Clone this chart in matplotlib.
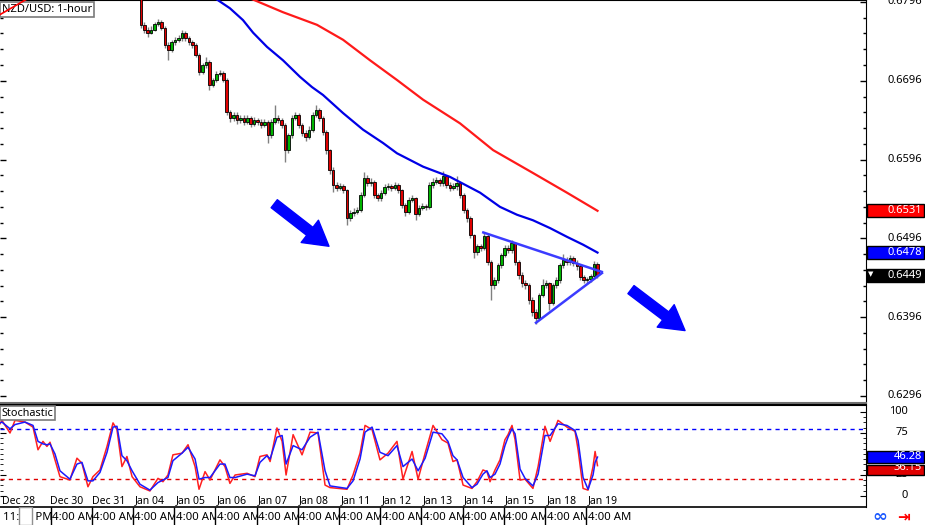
import matplotlib
matplotlib.use('Agg')
import matplotlib.pyplot as plt
import numpy as np
from matplotlib.patches import Rectangle
from matplotlib.ticker import FixedLocator, NullFormatter

plt.rcParams['font.family'] = ['Noto Sans', 'DejaVu Sans']

# ---------------- data ----------------
# x axis: hours, with day label "Dec 30" at hour 24
bar_hours_start = 67
bar_step = 2
first_open = 0.6812
closes = [0.6767, 0.6761, 0.6757, 0.6761, 0.6768, 0.6771, 0.6763, 0.6741, 0.6735, 0.6745,
          0.6748, 0.6750, 0.6757, 0.6750, 0.6745, 0.6741, 0.6729, 0.6707, 0.6716, 0.6720,
          0.6691, 0.6697, 0.6705, 0.6706, 0.6697, 0.6656, 0.6649, 0.6653, 0.6646, 0.6649,
          0.6644, 0.6649, 0.6641, 0.6646, 0.6644, 0.6640, 0.6644, 0.6627, 0.6644, 0.6649,
          0.6646, 0.6640, 0.6608, 0.6627, 0.6649, 0.6653, 0.6640, 0.6630, 0.6625, 0.6634,
          0.6653, 0.6659, 0.6649, 0.6631, 0.6608, 0.6583, 0.6564, 0.6560, 0.6562, 0.6557,
          0.6522, 0.6528, 0.6530, 0.6532, 0.6551, 0.6573, 0.6566, 0.6568, 0.6551, 0.6547,
          0.6554, 0.6561, 0.6562, 0.6560, 0.6564, 0.6557, 0.6538, 0.6530, 0.6545, 0.6547,
          0.6527, 0.6535, 0.6537, 0.6536, 0.6564, 0.6568, 0.6570, 0.6566, 0.6575, 0.6564,
          0.6560, 0.6562, 0.6566, 0.6551, 0.6532, 0.6522, 0.6500, 0.6479, 0.6486, 0.6484,
          0.6499, 0.6466, 0.6437, 0.6443, 0.6462, 0.6475, 0.6484, 0.6481, 0.6490, 0.6466,
          0.6450, 0.6439, 0.6437, 0.6418, 0.6403, 0.6395, 0.6424, 0.6437, 0.6439, 0.6414,
          0.6437, 0.6443, 0.6462, 0.6469, 0.6466, 0.6471, 0.6465, 0.6461, 0.6447, 0.6443,
          0.6444, 0.6448, 0.6464, 0.6449]
highs = [0.6815, 0.6770, 0.6764, 0.6765, 0.6771, 0.6775, 0.6773, 0.6766, 0.6745, 0.6748,
         0.6752, 0.6754, 0.6761, 0.6759, 0.6753, 0.6748, 0.6744, 0.6731, 0.6719, 0.6726,
         0.6722, 0.6700, 0.6708, 0.6710, 0.6708, 0.6699, 0.6659, 0.6657, 0.6656, 0.6653,
         0.6652, 0.6653, 0.6651, 0.6650, 0.6649, 0.6647, 0.6647, 0.6646, 0.6647, 0.6665,
         0.6652, 0.6649, 0.6642, 0.6630, 0.6652, 0.6657, 0.6655, 0.6643, 0.6633, 0.6638,
         0.6656, 0.6665, 0.6661, 0.6651, 0.6633, 0.6610, 0.6586, 0.6568, 0.6566, 0.6565,
         0.6559, 0.6532, 0.6534, 0.6536, 0.6555, 0.6580, 0.6576, 0.6572, 0.6570, 0.6554,
         0.6557, 0.6565, 0.6566, 0.6565, 0.6568, 0.6566, 0.6559, 0.6541, 0.6548, 0.6551,
         0.6549, 0.6538, 0.6541, 0.6540, 0.6567, 0.6572, 0.6574, 0.6573, 0.6582, 0.6577,
         0.6567, 0.6566, 0.6575, 0.6568, 0.6553, 0.6535, 0.6524, 0.6502, 0.6489, 0.6489,
         0.6504, 0.6501, 0.6468, 0.6447, 0.6465, 0.6478, 0.6488, 0.6487, 0.6494, 0.6492,
         0.6469, 0.6453, 0.6443, 0.6440, 0.6421, 0.6406, 0.6427, 0.6445, 0.6443, 0.6441,
         0.6440, 0.6447, 0.6465, 0.6476, 0.6472, 0.6475, 0.6474, 0.6468, 0.6463, 0.6450,
         0.6447, 0.6451, 0.6467, 0.6466]
lows = [0.6763, 0.6756, 0.6752, 0.6755, 0.6759, 0.6765, 0.6760, 0.6738, 0.6722, 0.6732,
        0.6742, 0.6745, 0.6747, 0.6747, 0.6742, 0.6737, 0.6726, 0.6703, 0.6704, 0.6712,
        0.6684, 0.6688, 0.6694, 0.6702, 0.6694, 0.6652, 0.6644, 0.6645, 0.6641, 0.6642,
        0.6640, 0.6641, 0.6637, 0.6638, 0.6640, 0.6636, 0.6637, 0.6617, 0.6624, 0.6641,
        0.6642, 0.6636, 0.6593, 0.6604, 0.6624, 0.6646, 0.6636, 0.6626, 0.6620, 0.6622,
        0.6631, 0.6650, 0.6645, 0.6627, 0.6603, 0.6578, 0.6555, 0.6556, 0.6557, 0.6553,
        0.6513, 0.6518, 0.6525, 0.6527, 0.6529, 0.6548, 0.6562, 0.6563, 0.6547, 0.6543,
        0.6544, 0.6551, 0.6558, 0.6556, 0.6557, 0.6553, 0.6534, 0.6524, 0.6527, 0.6542,
        0.6519, 0.6524, 0.6532, 0.6532, 0.6533, 0.6560, 0.6565, 0.6562, 0.6563, 0.6560,
        0.6556, 0.6557, 0.6558, 0.6547, 0.6528, 0.6517, 0.6496, 0.6471, 0.6475, 0.6480,
        0.6481, 0.6462, 0.6418, 0.6432, 0.6440, 0.6459, 0.6472, 0.6477, 0.6478, 0.6462,
        0.6444, 0.6434, 0.6432, 0.6413, 0.6398, 0.6387, 0.6392, 0.6421, 0.6433, 0.6405,
        0.6411, 0.6433, 0.6440, 0.6458, 0.6462, 0.6462, 0.6461, 0.6456, 0.6443, 0.6440,
        0.6440, 0.6441, 0.6445, 0.6446]

ma100_h = [101.5, 111.4, 118.9, 126.5, 132.4, 140.5, 149.8, 159.7, 166.7, 173.1, 184.8,
           196.4, 208.1, 216.2, 231.4, 247.1, 264.6, 276.2, 286.1, 295.4, 305.4, 315.2,
           324.6, 333.0]
ma100_v = [0.6813, 0.6799, 0.6788, 0.6773, 0.6757, 0.6739, 0.6722, 0.6701, 0.6688, 0.6678,
           0.6655, 0.6634, 0.6617, 0.6604, 0.6587, 0.6574, 0.6554, 0.6536, 0.6526, 0.6519,
           0.6509, 0.6498, 0.6488, 0.6478]
ma200_h = [105.0, 132.4, 149.8, 169.6, 184.8, 200.5, 216.2, 231.4, 252.9, 272.2, 295.4,
           315.2, 333.0]
ma200_v = [0.6823, 0.6799, 0.6783, 0.6767, 0.6748, 0.6722, 0.6697, 0.6672, 0.6642, 0.6608,
           0.6579, 0.6554, 0.6531]

stoch_h = [-15.0, -13.9, -9.2, -6.3, -0.5, 4.2, 7.1, 10.0, 12.3, 14.1,
           17.0, 19.9, 25.7, 29.8, 32.7, 36.2, 39.1, 43.2, 47.3, 50.8,
           53.1, 56.0, 58.9, 61.9, 66.5, 72.3, 77.0, 79.9, 82.8, 85.7,
           91.0, 94.5, 98.6, 100.9, 104.4, 107.3, 113.1, 116.0, 118.9, 121.9,
           128.9, 133.5, 136.4, 140.5, 142.3, 146.3, 149.3, 151.6, 155.7, 160.9,
           165.6, 170.2, 174.3, 177.2, 187.1, 190.6, 194.7, 197.6, 201.7, 206.3,
           211.0, 216.2, 219.7, 225.0, 228.5, 232.6, 237.2, 242.4, 245.9, 248.8,
           251.2, 254.7, 259.9, 262.8, 266.3, 268.6, 270.4, 273.3, 276.2, 279.1,
           280.9, 283.2, 285.0, 287.9, 290.8, 295.4, 298.4, 302.4, 305.4, 310.0,
           315.2, 319.9, 321.7, 324.6, 327.5, 330.4, 331.6, 333.0]
stoch_k = [86, 90, 75, 90, 88, 82, 55, 65, 59, 64,
           43, 23, 19, 45, 39, 11, 23, 31, 59, 87,
           79, 35, 47, 23, 11, 6, 21, 17, 25, 49,
           51, 61, 35, 8, 29, 19, 43, 35, 15, 25,
           27, 23, 47, 49, 41, 81, 65, 25, 73, 49,
           76, 75, 13, 10, 8, 25, 51, 84, 79, 43,
           51, 65, 20, 53, 20, 51, 84, 67, 63, 41,
           43, 13, 9, 17, 31, 29, 17, 31, 43, 67,
           73, 84, 67, 19, 20, 9, 35, 83, 65, 90,
           82, 77, 55, 9, 7, 35, 53, 36.15]
stoch_d = [87, 88, 80, 85, 88, 84, 65, 62, 61, 62,
           50, 30, 20, 38, 40, 18, 18, 28, 52, 82,
           83, 48, 42, 30, 14, 7, 16, 19, 22, 42,
           51, 58, 44, 20, 22, 22, 38, 38, 22, 22,
           26, 24, 40, 48, 44, 70, 72, 38, 60, 55,
           70, 76, 30, 12, 9, 18, 44, 76, 82, 52,
           48, 60, 35, 44, 30, 45, 76, 74, 65, 48,
           43, 22, 10, 14, 26, 30, 22, 26, 38, 60,
           70, 80, 74, 32, 21, 12, 26, 72, 72, 86,
           84, 78, 66, 22, 8, 25, 40, 46.28]

day_labels = ['Dec 28', 'Dec 30', 'Dec 31', 'Jan 04', 'Jan 05', 'Jan 06', 'Jan 07', 'Jan 08',
              'Jan 11', 'Jan 12', 'Jan 13', 'Jan 14', 'Jan 15', 'Jan 18', 'Jan 19']
day_hours = [-4.5, 24, 48, 72, 96, 120, 144, 168, 192, 216, 240, 264, 288, 312, 336]

session_hours = [14.4, 38.4, 62.4, 86.4, 110.4, 134.4, 158.4, 182.4, 206.4, 230.4,
                 254.4, 278.4, 302.4, 326.4]
session_first = ('11:00 PM', -13.3)
session_label = '4:00 AM'

price_ticks = [0.6796, 0.6696, 0.6596, 0.6496, 0.6396, 0.6296]
stoch_ticks = [100, 75, 25, 0]

tri_upper_h = [265.8, 336.2]
tri_upper_p = [0.6504, 0.6453]
tri_lower_h = [296.6, 336.2]
tri_lower_p = [0.6388, 0.6453]
red_line_h = [-15.0, 8.0]
red_line_p = [0.6780, 0.6809]

arrow_tail_h = [144.7, 352.5]
arrow_tail_p = [0.6540, 0.6431]
arrow_tip_h = [176.6, 384.0]
arrow_tip_p = [0.6486, 0.6379]

last_price = 0.6449
ma200_last = 0.6531
ma100_last = 0.6478
stoch_k_last = 36.15
stoch_d_last = 46.28

# ---------------- figure ----------------
W, H = 925, 525
fig = plt.figure(figsize=(W / 100, H / 100), dpi=100)
axw = 866 / W
ax = fig.add_axes([0, 1 - 403 / H, axw, 403 / H])
axs = fig.add_axes([0, 1 - 507 / H, axw, 102 / H], sharex=ax)
axb = fig.add_axes([0, 0, axw, 18 / H], sharex=ax)

xmin, xmax = -15.03, 489.4
ax.set_xlim(xmin, xmax)
ax.set_ylim(0.62871, 0.67985)
axs.set_ylim(-13.1, 108.3)
axb.set_ylim(0, 1)

# candles
closes_a = np.array(closes)
n = len(closes_a)
t = bar_hours_start + bar_step * np.arange(n)
opens_a = np.r_[first_open, closes_a[:-1]]
up = closes_a >= opens_a
ax.vlines(t, lows, highs, color='#808080', lw=1.0, zorder=2)
ax.bar(t, closes_a - opens_a, bottom=opens_a, width=1.5,
       color=np.where(up, '#00b400', '#e00000'), edgecolor='black', linewidth=0.6, zorder=3)

# moving averages
ax.plot(ma100_h, ma100_v, color='#0000e6', lw=1.6, zorder=4)
ax.plot(ma200_h, ma200_v, color='#ff1a1a', lw=1.6, zorder=4)

# triangle
ax.plot(tri_upper_h, tri_upper_p, color='#3c3cff', lw=1.8, zorder=5, solid_capstyle='butt')
ax.plot(tri_lower_h, tri_lower_p, color='#3c3cff', lw=1.8, zorder=5, solid_capstyle='butt')
ax.plot(red_line_h, red_line_p, color='#ff0000', lw=1.2, zorder=12)

# arrows
for th, tp, hh, hp in zip(arrow_tail_h, arrow_tail_p, arrow_tip_h, arrow_tip_p):
    ax.annotate('', xy=(hh, hp), xytext=(th, tp),
                arrowprops=dict(arrowstyle='simple,head_length=1.25,head_width=1.45,tail_width=0.52',
                                mutation_scale=14, color='#0000ff', shrinkA=0, shrinkB=0),
                zorder=6)

# title
ax.text(2 / 866, 1 - 9 / 403, 'NZD/USD: 1-hour', transform=ax.transAxes, fontsize=8,
        va='center', ha='left', zorder=11,
        bbox=dict(boxstyle='square,pad=0.18', fc='white', ec='#7a7a7a', lw=1.2))

# axis styling
for a in (ax, axs):
    a.spines['left'].set_visible(False)
    a.spines['top'].set_color('black')
    a.spines['right'].set_color('black')
    a.spines['bottom'].set_color('#707070')
    a.set_xticks([])
ax.spines['bottom'].set_linewidth(1.5)
axs.spines['top'].set_linewidth(1.5)
axs.spines['bottom'].set_linewidth(1.2)
axs.spines['bottom'].set_color('black')

ax.yaxis.set_major_locator(FixedLocator(price_ticks))
ax.yaxis.set_minor_locator(FixedLocator(np.arange(0.6276, 0.6810, 0.002)))
ax.yaxis.set_major_formatter(NullFormatter())
ax.tick_params(axis='y', which='both', direction='in', left=True, right=True,
               labelleft=False, labelright=False)
ax.tick_params(axis='y', which='major', length=4.5, width=1)
ax.tick_params(axis='y', which='minor', length=2.5, width=1)

ytr = ax.get_yaxis_transform()
for p in price_ticks:
    ax.text(922 / 866, p, f'{p:.4f}', transform=ytr, ha='right', va='center',
            fontsize=8, clip_on=False)

box_h = 0.00084
def price_box(val, fc, txt_marker=False):
    ax.add_patch(Rectangle((1.001, val - box_h), 0.066, 2 * box_h, transform=ytr,
                           fc=fc, ec='black', lw=1, clip_on=False, zorder=20))
    ax.text(922 / 866, val, f'{val:.4f}', transform=ytr, ha='right', va='center',
            fontsize=8, color='white', clip_on=False, zorder=21)
    if txt_marker:
        ax.text(871 / 866, val + 0.00015, '▼', transform=ytr, ha='center', va='center',
                fontsize=5, color='white', clip_on=False, zorder=21,
                family=['DejaVu Sans'])

price_box(ma200_last, '#ff0000')
price_box(ma100_last, '#0000ff')
price_box(last_price, 'black', True)

# stochastic panel
axs.plot(stoch_h, stoch_k, color='#ff2020', lw=1.1, zorder=3)
axs.plot(stoch_h, stoch_d, color='#1a1aff', lw=1.1, zorder=4)
axs.axhline(80, color='#0000ff', lw=1, ls=(0, (3, 3)))
axs.axhline(20, color='#e00000', lw=1, ls=(0, (3, 3)))
axs.yaxis.set_major_locator(FixedLocator(stoch_ticks))
axs.yaxis.set_minor_locator(FixedLocator(np.arange(0, 101, 6.25)))
axs.yaxis.set_major_formatter(NullFormatter())
axs.tick_params(axis='y', which='both', direction='in', left=True, right=True,
                labelleft=False, labelright=False)
axs.tick_params(axis='y', which='major', length=4.5)
axs.tick_params(axis='y', which='minor', length=2.5)
str_ = axs.get_yaxis_transform()
for v in stoch_ticks:
    axs.text(908 / 866, v, f'{v}', transform=str_, ha='right', va='center', fontsize=8,
             clip_on=False)
axs.add_patch(Rectangle((1.001, 24.5), 0.066, 12.5, transform=str_, fc='#e00000',
                        ec='black', lw=1, clip_on=False, zorder=20))
axs.text(922 / 866, 33.5, f'{stoch_k_last:.2f}', transform=str_, ha='right', va='center',
         fontsize=8, color='white', clip_on=False, zorder=21)
axs.add_patch(Rectangle((1.001, 39.5), 0.066, 14.5, transform=str_, fc='#0000ff',
                        ec='black', lw=1, clip_on=False, zorder=22))
axs.text(922 / 866, 46.8, f'{stoch_d_last:.2f}', transform=str_, ha='right', va='center',
         fontsize=8, color='white', clip_on=False, zorder=23)

for lab, h in zip(day_labels, day_hours):
    axs.text(h, -6, lab, ha='center', va='center', fontsize=7.5, zorder=6)

axs.text(2 / 866, 1 - 8 / 102, 'Stochastic', transform=axs.transAxes, fontsize=7.8,
         va='center', ha='left', zorder=11,
         bbox=dict(boxstyle='square,pad=0.15', fc='white', ec='#7a7a7a', lw=1.2))

# bottom session bar
axb.set_axis_off()
axb.text(session_first[1], 0.42, session_first[0], ha='left', va='center', fontsize=8.2,
         zorder=2)
axb.add_patch(Rectangle((-3.96, 0.02), 7.6, 0.96, fc='white', ec='#909090', lw=1, zorder=3))
for i, h in enumerate(session_hours):
    axb.text(h + 0.9, 0.42, session_label, ha='left', va='center', fontsize=8.2,
             zorder=4 + i, bbox=dict(boxstyle='square,pad=0.05', fc='white', ec='none'))
axb.vlines(session_hours, 0, 1, color='black', lw=1, zorder=40)

# bottom-right icons
fig.text(880 / W, 8 / H, '∞', color='#1e5bff', fontsize=13, fontweight='bold',
         ha='center', va='center', family=['DejaVu Sans'])
fig.text(904 / W, 8 / H, '⇥', color='#ff0000', fontsize=11, fontweight='bold',
         ha='center', va='center', family=['DejaVu Sans'])

fig.savefig('out.png', dpi=100)
